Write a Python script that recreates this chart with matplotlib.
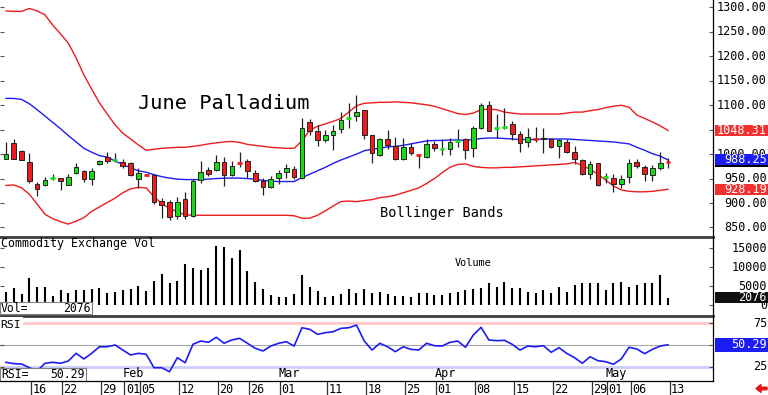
import matplotlib
matplotlib.use("Agg")
import matplotlib.pyplot as plt
from matplotlib import transforms
from matplotlib.patches import Rectangle, FancyArrow
from matplotlib.lines import Line2D

# daily bars, June palladium (Jan 10 .. May 14)
opens = [991, 1023, 1006, 984, 939, 936, 951, 951, 937, 961,
         965, 949, 980, 994, 988, 984, 982, 950, 959, 958,
         905, 903, 873, 909, 873, 948, 968, 967, 983, 957,
         983, 986, 961, 946, 932, 951, 964, 970, 951, 1065,
         1047, 1028, 1040, 1052, 1072, 1078, 1091, 1040, 999, 1032,
         1016, 991, 1014, 1000, 994, 1021, 1009, 1011, 1025, 1030,
         1012, 1054, 1100, 1053, 1055, 1062, 1042, 1025, 1031, 1030,
         1032, 1016, 1025, 1004, 989, 959, 982, 953, 951, 938,
         953, 984, 973, 957, 971, 985]
highs = [1025, 1032, 1009, 1002, 944, 953, 959, 952, 959, 982,
         968, 972, 989, 1004, 1002, 991, 984, 971, 960, 959,
         911, 906, 912, 923, 949, 985, 974, 998, 995, 985,
         1005, 990, 967, 951, 955, 968, 979, 976, 1074, 1071,
         1060, 1050, 1060, 1086, 1104, 1120, 1091, 1040, 1033, 1050,
         1035, 1033, 1023, 1000, 1030, 1026, 1032, 1033, 1051, 1034,
         1058, 1105, 1109, 1082, 1094, 1067, 1047, 1054, 1055, 1054,
         1034, 1032, 1031, 1016, 991, 987, 982, 961, 959, 957,
         991, 991, 977, 977, 1004, 992]
lows = [990, 990, 988, 942, 914, 934, 948, 927, 936, 959,
        943, 937, 978, 982, 984, 972, 955, 931, 957, 899,
        869, 866, 867, 867, 871, 942, 955, 966, 935, 955,
        974, 951, 944, 916, 931, 938, 951, 950, 950, 1040,
        1016, 1025, 1009, 1043, 1053, 1067, 1030, 982, 996, 1011,
        989, 989, 999, 972, 992, 1006, 999, 999, 1015, 991,
        995, 1052, 1047, 1033, 1052, 1028, 1004, 1014, 1024, 1002,
        1013, 992, 1002, 979, 958, 950, 934, 941, 923, 931,
        941, 972, 946, 946, 968, 972]
closes = [1000, 990, 989, 946, 929, 948, 952, 946, 953, 973,
          950, 966, 987, 987, 989, 975, 957, 962, 958, 902,
          897, 871, 903, 873, 946, 963, 959, 984, 957, 976,
          982, 966, 946, 932, 950, 961, 972, 953, 1054, 1048,
          1028, 1039, 1048, 1069, 1073, 1086, 1040, 1002, 1030, 1018,
          991, 1014, 1002, 999, 1021, 1013, 1010, 1025, 1027, 1009,
          1053, 1100, 1048, 1054, 1056, 1042, 1023, 1035, 1030, 1034,
          1014, 1028, 1004, 991, 959, 980, 936, 954, 938, 950,
          982, 975, 959, 971, 982, 984]

bb_upper = [1293, 1292, 1292, 1298, 1293, 1285, 1264, 1246, 1227, 1197,
            1162, 1133, 1105, 1082, 1060, 1043, 1031, 1019, 1008, 1010,
            1012, 1013, 1014, 1014, 1016, 1018, 1021, 1023, 1025, 1026,
            1024, 1020, 1018, 1016, 1014, 1013, 1012, 1012, 1027, 1049,
            1057, 1062, 1067, 1073, 1086, 1099, 1104, 1105, 1106, 1106,
            1107, 1106, 1105, 1103, 1101, 1098, 1093, 1088, 1083, 1081,
            1084, 1091, 1092, 1091, 1086, 1084, 1082, 1082, 1082, 1082,
            1082, 1082, 1084, 1086, 1086, 1089, 1091, 1095, 1098, 1100,
            1096, 1080, 1073, 1066, 1058, 1048.31]
bb_mid = [1114, 1114, 1112, 1103, 1091, 1078, 1065, 1052, 1038, 1025,
          1012, 1004, 997, 994, 986, 979, 972, 966, 963, 958,
          954, 951, 949, 948, 948, 948, 949, 950, 951, 951,
          951, 950, 949, 946, 945, 944, 944, 944, 952, 959,
          966, 973, 981, 988, 994, 1000, 1007, 1010, 1012, 1015,
          1016, 1018, 1021, 1024, 1027, 1028, 1028, 1029, 1029, 1028,
          1030, 1032, 1033, 1033, 1032, 1031, 1030, 1030, 1030, 1031,
          1031, 1031, 1031, 1030, 1029, 1028, 1027, 1026, 1025, 1023,
          1021, 1014, 1008, 1001, 996, 988.25]
bb_lower = [936, 937, 931, 918, 898, 877, 868, 862, 857, 863,
            870, 883, 892, 901, 910, 921, 929, 932, 931, 913,
            899, 889, 882, 876, 875, 875, 875, 875, 875, 875,
            875, 875, 875, 875, 875, 875, 875, 874, 869, 869,
            875, 884, 894, 903, 904, 903, 905, 907, 911, 913,
            916, 921, 926, 931, 940, 950, 962, 973, 979, 980,
            975, 973, 972, 972, 973, 973, 974, 975, 976, 977,
            978, 979, 980, 983, 977, 969, 959, 947, 935, 927,
            924, 923, 923, 924, 926, 928.19]

volume = [3630, 4520, 2950, 7150, 4950, 4790, 2500, 4080, 3210, 4080,
          4080, 4340, 4520, 3210, 3630, 4080, 4340, 5130, 3810, 6440,
          8280, 5830, 6530, 10900, 9780, 9340, 9780, 15650, 15300, 12400,
          14600, 9160, 6270, 4340, 2760, 2320, 2320, 3020, 8020, 4950,
          3810, 2320, 2580, 3020, 4340, 3210, 4340, 3210, 3470, 2950,
          2580, 2500, 2160, 3210, 3210, 2760, 2760, 3210, 3630, 4080,
          4340, 4690, 5830, 4950, 6270, 4690, 4690, 3470, 3210, 4080,
          3210, 4950, 3470, 5390, 6000, 5830, 5830, 4080, 5830, 6270,
          4950, 5390, 6000, 5830, 8020, 2076]

rsi = [30.1, 28.5, 28.1, 23.8, 20.0, 28.9, 30.1, 28.9, 31.6, 40.4,
       33.9, 40.4, 48.0, 48.0, 50.0, 44.2, 38.5, 40.4, 39.3, 23.8,
       23.8, 19.2, 35.4, 29.6, 50.8, 54.6, 53.1, 58.9, 52.0, 55.8,
       57.7, 52.0, 46.2, 43.1, 48.8, 52.0, 53.8, 48.8, 69.9, 68.1,
       62.3, 64.2, 65.3, 69.2, 69.9, 73.0, 54.6, 44.2, 52.0, 48.0,
       42.3, 48.0, 45.0, 44.2, 52.0, 49.2, 48.8, 53.1, 54.6, 47.4,
       61.5, 70.4, 55.8, 55.0, 55.4, 50.8, 44.2, 48.8, 48.0, 49.2,
       41.6, 46.9, 40.4, 35.4, 28.9, 36.5, 31.9, 30.8, 27.8, 33.9,
       47.4, 45.4, 40.0, 45.0, 48.8, 50.29]

tick_idx = [3, 7, 12, 15, 17, 22, 27, 31, 35, 41, 46, 51, 55, 60, 65, 70, 75, 77, 80, 85]
tick_lab = ['16', '22', '29', '01', '05', '12', '20', '26', '01', '11',
            '18', '25', '01', '08', '15', '22', '29', '01', '06', '13']
month_idx = [15, 35, 55, 77]
month_lab = ['Feb', 'Mar', 'Apr', 'May']
price_ticks = [850, 900, 950, 1000, 1050, 1100, 1150, 1200, 1250, 1300]
vol_ticks = [0, 5000, 10000, 15000]
rsi_ticks = [25, 50, 75]

W, H = 768, 395
MONO = 'DejaVu Sans Mono'
GREEN = '#16dc16'
RED = '#ee1c1c'
BLUE = '#1c1cf5'

fig = plt.figure(figsize=(W / 100, H / 100), dpi=100, facecolor='white')


def fx(px):
    return px / W


def fy(py):
    return 1 - py / H


def px_axes(x0, y0, x1, y1):
    a = fig.add_axes([fx(x0), fy(y1), (x1 - x0) / W, (y1 - y0) / H])
    for s in a.spines.values():
        s.set_visible(False)
    a.set_xticks([])
    a.set_xlim(-0.77, 90.78)
    return a


ax_p = px_axes(0, 0, 713, 236)
ax_v = px_axes(0, 238, 713, 315)
ax_r = px_axes(0, 317, 713, 381)
ax_d = px_axes(0, 381, 713, 395)

ax_p.set_ylim(832.6, 1315.3)
ax_v.set_ylim(-2500, 17750)
ax_r.set_ylim(8.5, 82.3)
ax_d.set_ylim(0, 1)
ax_d.set_yticks([])

x = list(range(len(closes)))

# --- price panel: candles + bollinger
ax_p.plot(x, bb_upper, color=RED, lw=1.0, zorder=2)
ax_p.plot(x, bb_lower, color=RED, lw=1.0, zorder=2)
ax_p.plot(x, bb_mid, color=BLUE, lw=1.0, zorder=2)

for i in x:
    o, h, l, c = opens[i], highs[i], lows[i], closes[i]
    col = GREEN if c >= o else RED
    ax_p.vlines(i, l, h, color='#222222', lw=0.9, zorder=3)
    if abs(c - o) < 2.5:
        ax_p.hlines(c, i - 0.3, i + 0.3, color=col, lw=2.0, zorder=4)
    else:
        ax_p.add_patch(Rectangle((i - 0.3, min(o, c)), 0.6, abs(c - o),
                                 facecolor=col, edgecolor='#222222', lw=0.7, zorder=4))

ax_p.text(138 / 713, 1 - 109 / 236, 'June Palladium', transform=ax_p.transAxes,
          family=MONO, fontsize=14.6, va='baseline', ha='left', color='black')
ax_p.text(380 / 713, 1 - 217.5 / 236, 'Bollinger Bands', transform=ax_p.transAxes,
          family=MONO, fontsize=9.8, va='baseline', ha='left', color='black')

# --- volume panel
ax_v.vlines(x, 0, volume, color='black', lw=1.5)

# --- rsi panel
ax_r.axhline(75, color='#ffc8c8', lw=2.0, zorder=1)
ax_r.axhline(50, color='#a8a8a8', lw=0.8, zorder=1)
ax_r.axhline(25, color='#ccccff', lw=2.0, zorder=1)
ax_r.plot(x, rsi, color=BLUE, lw=1.2, zorder=3)
for i, lab in zip(month_idx, month_lab):
    ax_r.text(i, 16.6, lab, family=MONO, fontsize=8.5, va='center', ha='left')

# small inward ticks
for a, t in ((ax_p, price_ticks), (ax_v, vol_ticks), (ax_r, rsi_ticks)):
    a.set_yticks(t)
    a.tick_params(axis='y', direction='in', length=3, width=0.8, color='#555555',
                  left=True, right=True, labelleft=False, labelright=False)


# right-hand scale labels (skip the ones fully covered by a readout box)
def right_labels(ax, vals, fmt, hidden=()):
    tr = transforms.blended_transform_factory(fig.transFigure, ax.transData)
    for v in vals:
        if v in hidden:
            continue
        ax.text(fx(767), v, fmt.format(v), transform=tr, family=MONO, fontsize=8.5,
                ha='right', va='center', color='black', clip_on=False)
    return tr


def value_box(ax, tr, val, hh, txt, fc, zo=6):
    ax.add_patch(Rectangle((fx(715), val - hh / 2), 53 / W, hh, transform=tr,
                           facecolor=fc, edgecolor='none', clip_on=False, zorder=zo))
    if txt:
        ax.text(fx(767), val, txt, transform=tr, family=MONO, fontsize=8.5, ha='right',
                va='center', color='white', clip_on=False, zorder=zo + 1)


tr_p = right_labels(ax_p, price_ticks, '{:.2f}', hidden=(1050,))
value_box(ax_p, tr_p, closes[-1], 22.5, '', 'black', zo=5)
value_box(ax_p, tr_p, bb_mid[-1], 22.5, '{:.2f}'.format(bb_mid[-1]), BLUE)
value_box(ax_p, tr_p, bb_upper[-1], 22.5, '{:.2f}'.format(bb_upper[-1]), '#f23030')
value_box(ax_p, tr_p, bb_lower[-1], 22.5, '{:.2f}'.format(bb_lower[-1]), '#f23030')

tr_v = right_labels(ax_v, vol_ticks, '{}')
value_box(ax_v, tr_v, volume[-1], 2800, str(volume[-1]), '#111111')

tr_r = right_labels(ax_r, rsi_ticks, '{}', hidden=(50,))
value_box(ax_r, tr_r, rsi[-1], 16, '{:.2f}'.format(rsi[-1]), BLUE)

# --- date strip
for i, lab in zip(tick_idx, tick_lab):
    ax_d.vlines(i + 0.2, 0, 1, color='#333333', lw=0.9)
    ax_d.text(i + 0.38, 0.42, lab, family=MONO, fontsize=8.5, va='center', ha='left')

# --- panel captions and readout boxes
fig.text(fx(1), fy(247.5), 'Commodity Exchange Vol', family=MONO, fontsize=8.4,
         va='baseline', ha='left')
fig.text(fx(455), fy(265.5), 'Volume', family=MONO, fontsize=7.4, va='baseline', ha='left')
fig.text(fx(0.5), fy(327.5), 'RSI', family=MONO, fontsize=8.2, va='baseline', ha='left',
         bbox=dict(facecolor='white', edgecolor='none', pad=1.5))

fig.add_artist(Rectangle((fx(0), fy(314)), 92 / W, 12.5 / H, transform=fig.transFigure,
                         facecolor='white', edgecolor='#808080', lw=0.8))
fig.text(fx(1), fy(312), 'Vol=', family=MONO, fontsize=8.3, va='baseline', ha='left')
fig.text(fx(91), fy(312), str(volume[-1]), family=MONO, fontsize=8.3, va='baseline', ha='right')

fig.add_artist(Rectangle((fx(0), fy(381)), 86 / W, 13.3 / H, transform=fig.transFigure,
                         facecolor='white', edgecolor='#808080', lw=0.8))
fig.text(fx(1), fy(378.5), 'RSI=', family=MONO, fontsize=8.3, va='baseline', ha='left')
fig.text(fx(85), fy(378.5), '{:.2f}'.format(rsi[-1]), family=MONO, fontsize=8.3,
         va='baseline', ha='right')

# frame lines
fig.add_artist(Line2D([0, fx(713)], [fy(237)] * 2, color='#3c3c3c', lw=2.0))
fig.add_artist(Line2D([0, fx(713)], [fy(316)] * 2, color='#3c3c3c', lw=2.0))
fig.add_artist(Line2D([0, fx(713)], [fy(381)] * 2, color='black', lw=0.9))
fig.add_artist(Line2D([fx(713)] * 2, [1, fy(381)], color='black', lw=0.9))

fig.add_artist(FancyArrow(fx(767), fy(388.5), -11 / W, 0, width=2.5 / H, head_width=8 / H,
                          head_length=5 / W, length_includes_head=True,
                          color='#e8141a', transform=fig.transFigure))

fig.savefig('out.png', dpi=100, facecolor='white')
